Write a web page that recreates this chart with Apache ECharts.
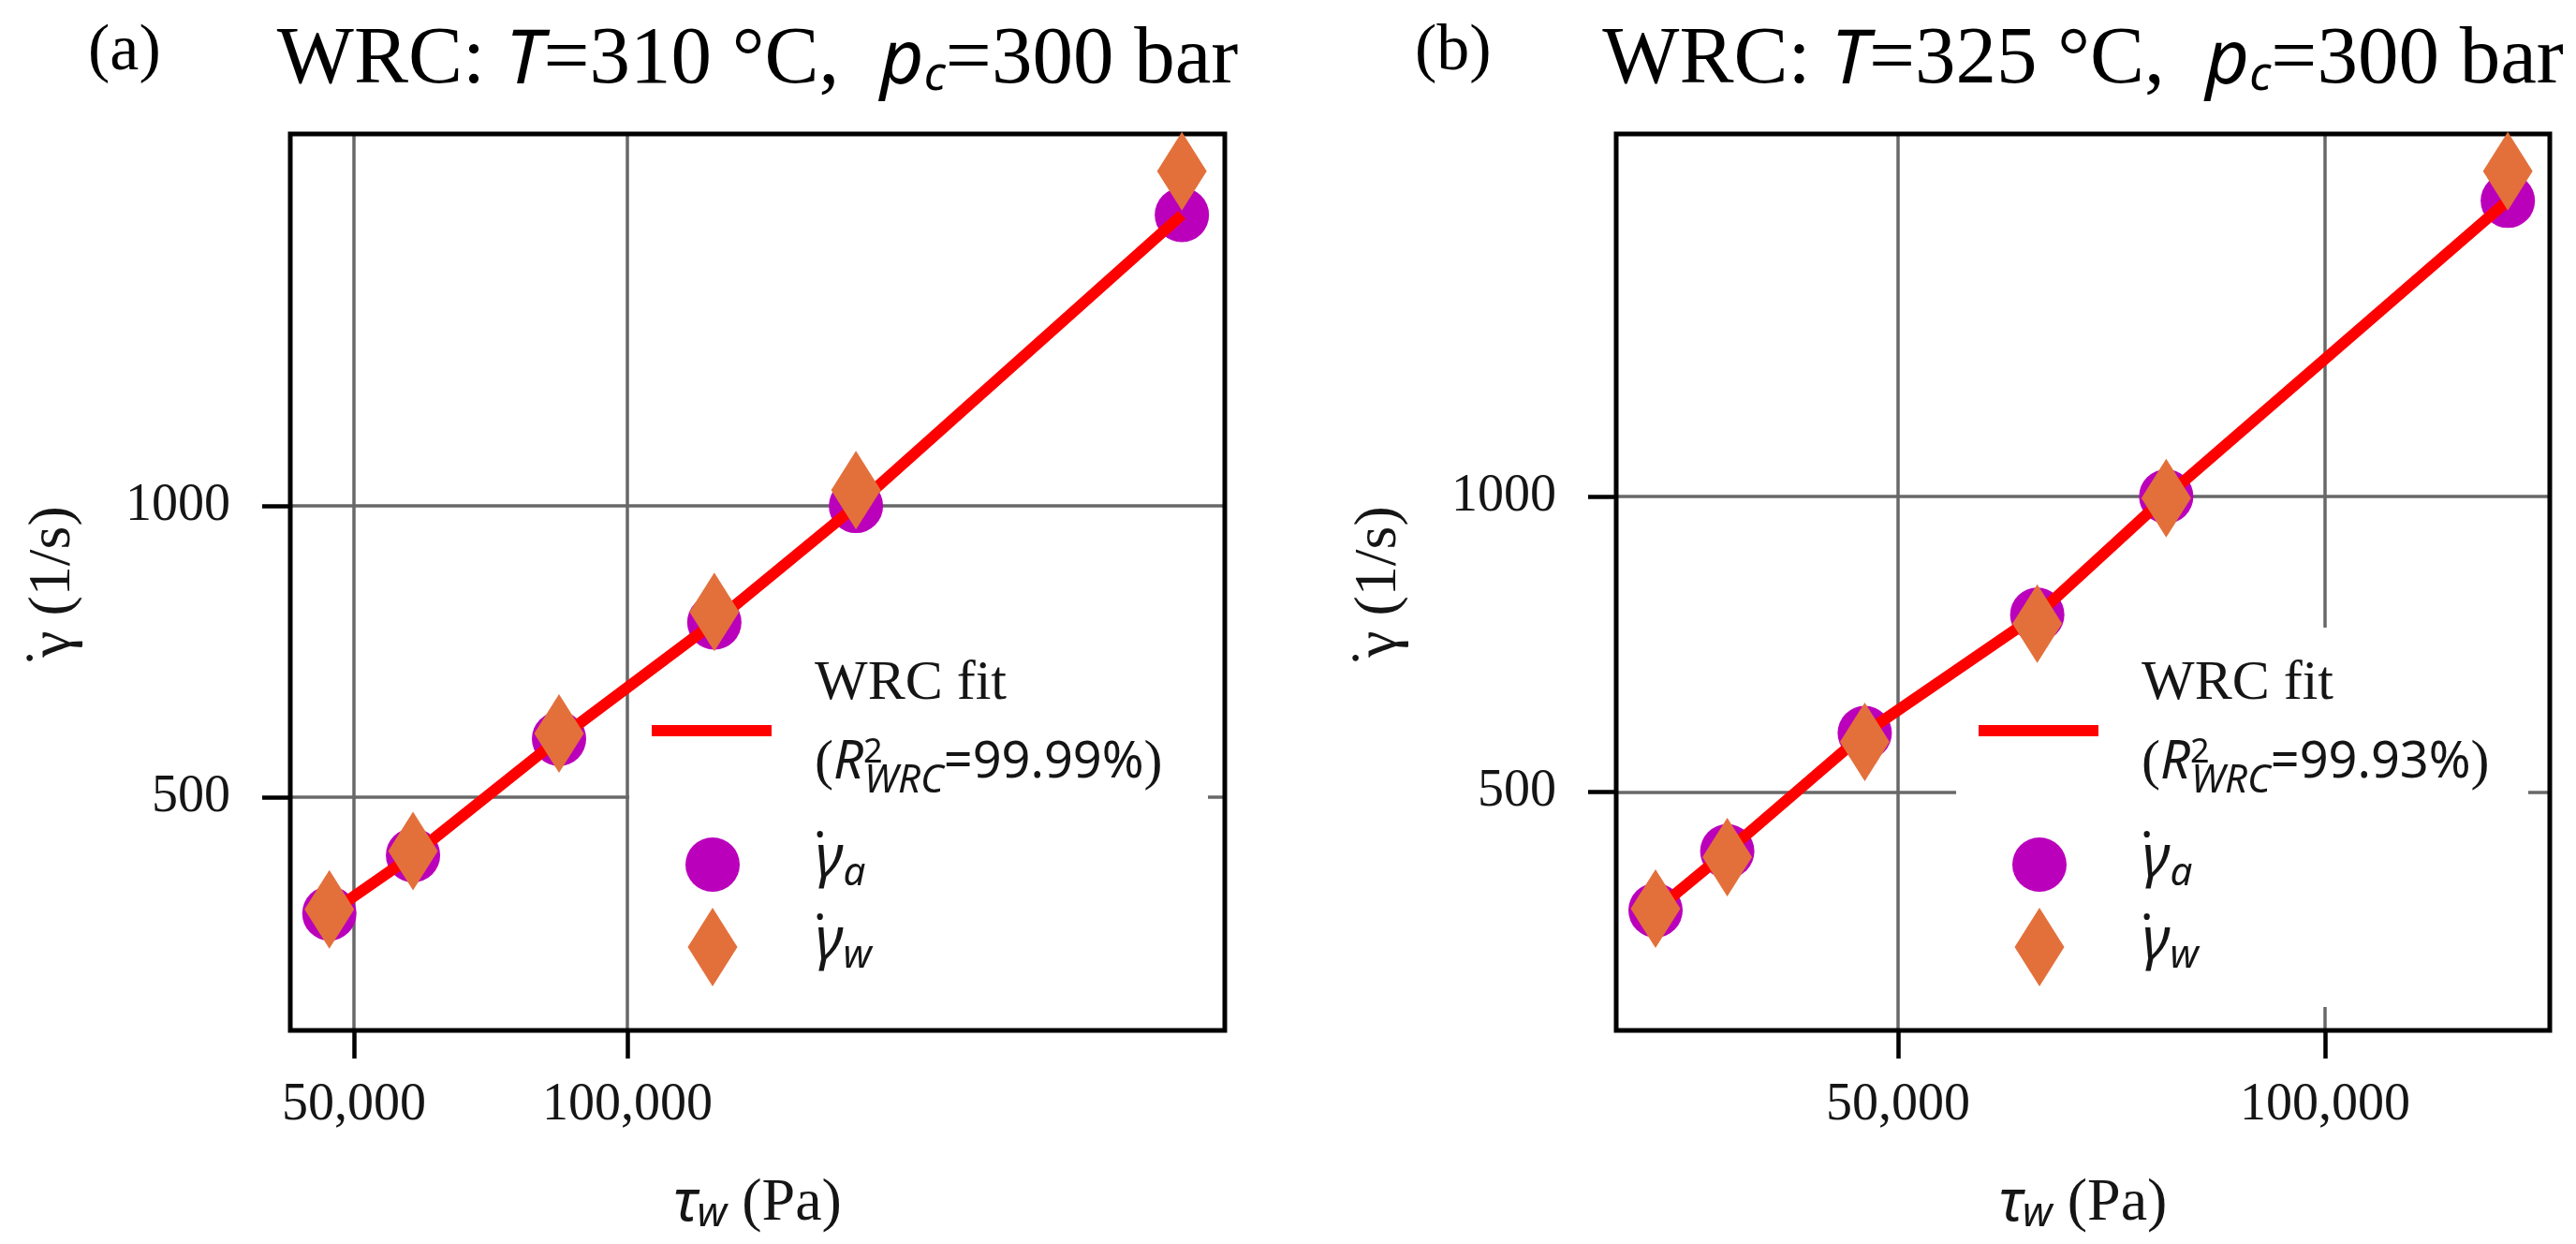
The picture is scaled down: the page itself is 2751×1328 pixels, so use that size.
<!DOCTYPE html>
<html><head><meta charset="utf-8">
<script src="https://cdn.jsdelivr.net/npm/echarts@6/dist/echarts.min.js"></script>
<style>html,body{margin:0;padding:0;background:#fff}#c{width:2751px;height:1328px}</style>
</head><body><div id="c"></div>
<script>
// ---- data ----
const tauA       = [45500, 60800, 87500, 115900, 141800, 201400];   // τw (Pa), panel (a)
const gammaAppA  = [300, 400, 600, 800, 1000, 1500];                 // γ̇a
const gammaWallA = [307, 407, 609, 818, 1027, 1575];                 // γ̇w
const fitA       = [300, 400, 600, 800, 1000, 1500];                 // WRC fit
const tauB       = [21600, 30000, 46100, 66300, 81400, 121400];     // τw (Pa), panel (b)
const gammaAppB  = [300, 400, 600, 800, 1000, 1500];
const gammaWallB = [303, 390, 585, 785, 997, 1550];
const fitB       = [300, 400, 600, 800, 1000, 1500];
const xTickVals  = [50000, 100000];
const yTickVals  = [500, 1000];
const r2Labels   = ['99.99%', '99.93%'];
const panelTags  = ['(a)', '(b)'];
const temps      = ['310', '325'];

const SERIF = 'Liberation Serif';
const SANS = 'Noto Sans';
const TXT = '#151515';
const GRIDC = '#686868';

const pairs = (xs, ys) => xs.map((x, i) => [x, ys[i]]);

const panels = [
  {tau: tauA, ga: gammaAppA, gw: gammaWallA, fit: fitA,
   grid: {left: 310, top: 143, width: 998, height: 957},
   xr: [38356, 209247], yr: [99, 1639], legL: 696, bg: [672, 670, 618, 405]},
  {tau: tauB, ga: gammaAppB, gw: gammaWallB, fit: fitB,
   grid: {left: 1726, top: 143, width: 997, height: 957},
   xr: [16996, 126316], yr: [97, 1613], legL: 2113, bg: [2089, 670, 611, 405]}
];

const option = {
  animation: false,
  backgroundColor: '#fff',
  title: [], grid: [], xAxis: [], yAxis: [], series: [], legend: [], graphic: {elements: []}
};

const legendRichBase = {
  s1: {width: 41, height: 70, lineHeight: 70, fontSize: 10},
  s2: {width: 41, height: 80, lineHeight: 80, fontSize: 10},
  w: {fontFamily: SERIF, fontSize: 60, fontWeight: 'normal', height: 50, lineHeight: 50, verticalAlign: 'top', color: TXT},
  p: {fontFamily: SERIF, fontSize: 60, fontWeight: 'normal', lineHeight: 80, color: TXT},
  r: {fontFamily: SANS, fontStyle: 'italic', fontSize: 56, fontWeight: 'normal', lineHeight: 80, color: TXT},
  n: {fontFamily: SANS, fontSize: 54, fontWeight: 'normal', lineHeight: 80, color: TXT},
  sup: {fontFamily: SANS, fontSize: 36, fontWeight: 'normal', width: 1, height: 58, lineHeight: 58, verticalAlign: 'top', color: TXT},
  sub: {fontFamily: SANS, fontStyle: 'italic', fontSize: 42, fontWeight: 'normal', height: 42, lineHeight: 42, verticalAlign: 'bottom', color: TXT},
  sc: {width: 75, fontSize: 10, lineHeight: 56},
  sd: {width: 77.5, fontSize: 10, lineHeight: 56},
  dt: {fontFamily: SANS, fontSize: 62, fontWeight: 'normal', width: 1, height: 40, lineHeight: 40, verticalAlign: 'top', color: TXT},
  g: {fontFamily: SANS, fontStyle: 'italic', fontSize: 62, fontWeight: 'normal', height: 44, lineHeight: 56, verticalAlign: 'top', color: TXT},
  gs: {fontFamily: SANS, fontStyle: 'italic', fontSize: 42, fontWeight: 'normal', height: 36, lineHeight: 36, verticalAlign: 'bottom', color: TXT}
};

panels.forEach((P, i) => {
  const cx = P.grid.left + P.grid.width / 2;
  option.title.push({
    text: panelTags[i], left: P.grid.left - 216 + (i ? 1 : 0), top: 21, padding: 0,
    textStyle: {fontFamily: SERIF, fontSize: 70, fontWeight: 'normal', color: '#000', lineHeight: 70}
  });
  option.title.push({
    text: 'WRC: {it|T}=' + temps[i] + ' °C,  {it|p}{sub|c}=300 bar',
    left: cx, top: 22, padding: 0, textAlign: 'center',
    textStyle: {
      fontFamily: SERIF, fontSize: 87, fontWeight: 'normal', color: '#000', lineHeight: 87,
      rich: {
        it: {fontFamily: SANS, fontStyle: 'italic', fontSize: 81, fontWeight: 'normal', lineHeight: 87, color: '#000'},
        sub: {fontFamily: SANS, fontStyle: 'italic', fontSize: 51, fontWeight: 'normal', height: 55, lineHeight: 55, verticalAlign: 'bottom', color: '#000'}
      }
    }
  });
  option.grid.push(Object.assign({show: true, borderColor: '#000', borderWidth: 5, backgroundColor: 'transparent', z: 1,
    containLabel: false, outerBoundsMode: 'none'}, P.grid));
  option.xAxis.push({
    type: 'value', gridIndex: i, min: P.xr[0], max: P.xr[1],
    name: '{t|τ}{s|w}{n| (Pa)}', nameLocation: 'middle', nameGap: 150, nameMoveOverlap: false,
    nameTextStyle: {
      fontFamily: SERIF, fontSize: 64, color: TXT, lineHeight: 70,
      rich: {
        t: {fontFamily: SANS, fontStyle: 'italic', fontSize: 62, lineHeight: 70, color: TXT},
        s: {fontFamily: SANS, fontStyle: 'italic', fontSize: 44, height: 47, lineHeight: 47, verticalAlign: 'bottom', color: TXT},
        n: {fontFamily: SERIF, fontSize: 64, lineHeight: 70, color: TXT}
      }
    },
    axisLine: {show: false},
    axisTick: {show: true, inside: false, length: 30, customValues: xTickVals, lineStyle: {color: '#000', width: 4.5}},
    axisLabel: {customValues: xTickVals, margin: 52, fontFamily: SERIF, fontSize: 56, color: TXT,
      formatter: v => Number(v).toLocaleString('en-US')},
    splitLine: {show: true, lineStyle: {color: GRIDC, width: 3.5}}
  });
  option.yAxis.push({
    type: 'value', gridIndex: i, min: P.yr[0], max: P.yr[1],
    name: '{dt|˙}{g|γ}{n| (1/s)}', nameLocation: 'middle', nameRotate: 90, nameGap: 218, nameMoveOverlap: false,
    nameTextStyle: {
      fontFamily: SERIF, fontSize: 64, color: TXT, lineHeight: 70,
      rich: {
        dt: {fontFamily: SERIF, fontSize: 64, width: 1, height: 62, lineHeight: 62, verticalAlign: 'top', color: TXT},
        g: {fontFamily: SERIF, fontSize: 64, lineHeight: 70, color: TXT},
        n: {fontFamily: SERIF, fontSize: 64, lineHeight: 70, color: TXT}
      }
    },
    axisLine: {show: false},
    axisTick: {show: true, inside: false, length: 30, customValues: yTickVals, lineStyle: {color: '#000', width: 4.5}},
    axisLabel: {customValues: yTickVals, margin: 64, fontFamily: SERIF, fontSize: 56, color: TXT,
      formatter: v => String(v)},
    splitLine: {show: true, lineStyle: {color: GRIDC, width: 3.5}}
  });
  const nFit = 'fit' + i, nA = 'ga' + i, nW = 'gw' + i;
  option.series.push({
    name: nA, type: 'scatter', xAxisIndex: i, yAxisIndex: i, z: 2, clip: false,
    symbol: 'circle', symbolSize: 58, itemStyle: {color: '#BB00BB', opacity: 1},
    data: pairs(P.tau, P.ga)
  });
  option.series.push({
    name: nFit, type: 'line', xAxisIndex: i, yAxisIndex: i, z: 3, clip: false,
    symbol: 'none', showSymbol: false, color: '#FF0000',
    itemStyle: {color: '#FF0000'}, lineStyle: {color: '#FF0000', width: 12},
    data: pairs(P.tau, P.fit)
  });
  option.series.push({
    name: nW, type: 'scatter', xAxisIndex: i, yAxisIndex: i, z: 4, clip: false,
    symbol: 'diamond', symbolSize: [53, 84], itemStyle: {color: '#E3703B', opacity: 1},
    data: pairs(P.tau, P.gw)
  });
  const L = P.legL;
  const common = {orient: 'vertical', padding: 0, selectedMode: false, symbolKeepAspect: false,
    textStyle: {fontFamily: SERIF, fontSize: 60, color: TXT, rich: legendRichBase}};
  option.legend.push(Object.assign({}, common, {
    data: [{name: nFit, icon: 'rect'}], left: L, top: 700, itemWidth: 128, itemHeight: 12,
    formatter: () => '{s1| }{w|WRC fit}\n{s2| }{p|(}{r|R}{sup|2}{sub|WRC}{n|=' + r2Labels[i] + '}{p|)}'
  }));
  option.legend.push(Object.assign({}, common, {
    data: [{name: nA, icon: 'circle'}], left: L + 36, top: 884, itemWidth: 58, itemHeight: 58,
    formatter: () => '{sc| }{dt|˙}{g|γ}{gs|a}'
  }));
  option.legend.push(Object.assign({}, common, {
    data: [{name: nW, icon: 'diamond'}], left: L + 38.5, top: 969, itemWidth: 53, itemHeight: 84,
    formatter: () => '{sd| }{dt|˙}{g|γ}{gs|w}'
  }));
  option.graphic.elements.push({
    type: 'rect', z: 1, silent: true,
    shape: {x: P.bg[0], y: P.bg[1], width: P.bg[2], height: P.bg[3]},
    style: {fill: '#fff'}
  });
});

const chart = echarts.init(document.getElementById('c'), null, {renderer: 'canvas'});
chart.setOption(option);
</script></body></html>
